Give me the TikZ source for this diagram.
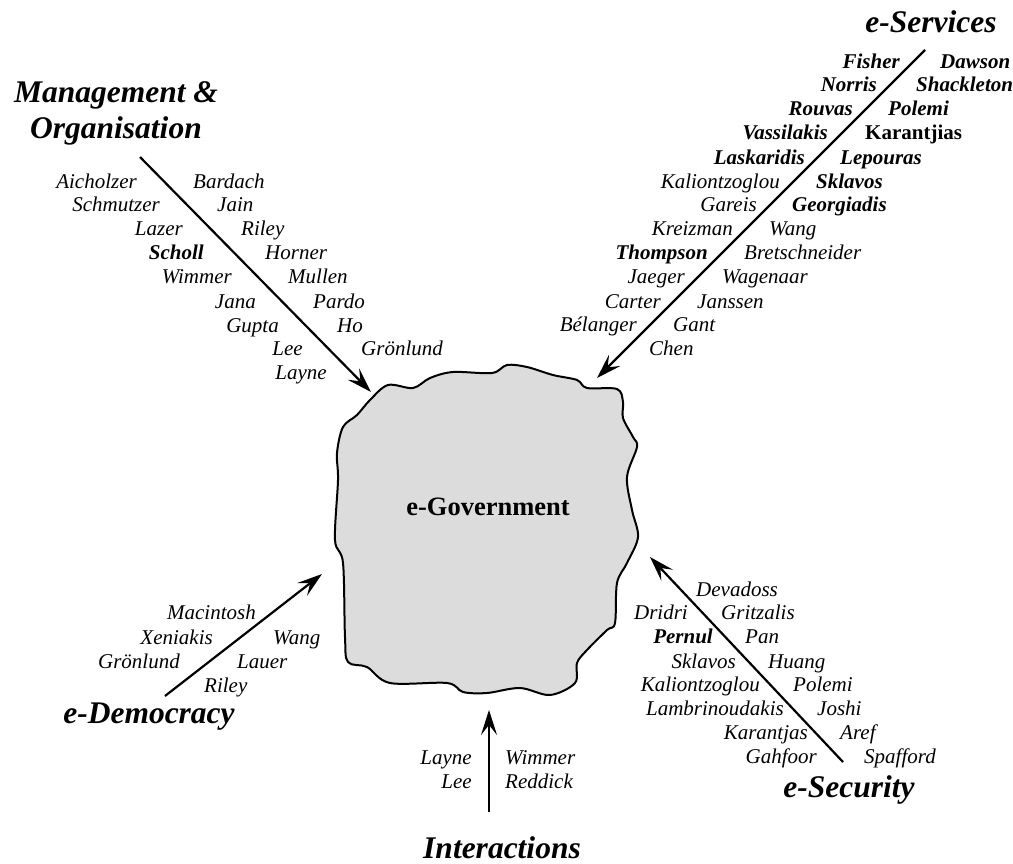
\documentclass[tikz,border=0pt]{standalone}
\usepackage{fontspec}
\setmainfont{Liberation Serif}
\usetikzlibrary{arrows.meta}
\begin{document}
\begin{tikzpicture}[x=1pt,y=-1pt,
  nm/.style={font=\fontsize{21}{24}\selectfont\itshape, inner sep=0pt},
  bnm/.style={font=\fontsize{21}{24}\selectfont\bfseries\itshape, inner sep=0pt},
  L/.style={anchor=base east},
  R/.style={anchor=base west},
  title/.style={font=\fontsize{31.5}{36}\selectfont\bfseries\itshape, inner sep=0pt, align=center},
  arr/.style={line width=2.2pt, -{Stealth[length=25pt,width=16pt,inset=10pt]}},
  blob/.style={line width=2pt, fill={rgb,255:red,220;green,220;blue,220}, line join=round},
]
\useasboundingbox (0,0) rectangle (1013,863);

% central blob
\draw[blob] plot[smooth cycle, tension=0.55] coordinates {
 (388,385) (413,388) (430,378) (453,372) (492,373) (507,365) (527,367)
 (553,375) (577,380) (587,388) (617,389) (623,402) (623,418) (633,437)
 (637,447) (627,477) (632,510) (638,537) (627,563) (617,583) (615,623)
 (607,630) (587,650) (577,663) (575,683) (550,695) (520,688) (487,693)
 (463,692) (447,683) (390,683) (367,667) (348,662) (345,637) (343,563)
 (335,540) (338,480) (337,453) (343,427) (357,415) (370,400)};
\node[font=\fontsize{26.5}{30}\selectfont\bfseries, inner sep=0pt, anchor=base] (egov) at (488,515) {e-Government};

% arrow end points
\coordinate (mS) at (140,157);  \coordinate (mE) at (371,392);
\coordinate (sS) at (925,50);   \coordinate (sE) at (597,378);
\coordinate (dS) at (165,696);  \coordinate (dE) at (322,574);
\coordinate (cS) at (843,762);  \coordinate (cE) at (650,557);
\coordinate (iS) at (489,812);  \coordinate (iE) at (489,710);
\draw[arr] (mS) -- (mE);
\draw[arr] (sS) -- (sE);
\draw[arr] (dS) -- (dE);
\draw[arr] (cS) -- (cE);
\draw[arr] (iS) -- (iE);

% titles
\node[title] (tM) at (116,113) {Management \&\\Organisation};
\node[title, anchor=base] (tS) at (931,32) {e-Services};
\node[title, anchor=base] (tD) at (149,723) {e-Democracy};
\node[title, anchor=base] (tC) at (849,797) {e-Security};
\node[title, anchor=base] (tI) at (502,858) {Interactions};

% Management & Organisation
\node[nm,L] (m1) at (137,188) {Aicholzer};
\node[nm,L] (m2) at (160,211) {Schmutzer};
\node[nm,L] (m3) at (183,235) {Lazer};
\node[bnm,L] (m4) at (204,259) {Scholl};
\node[nm,L] (m5) at (232,283) {Wimmer};
\node[nm,L] (m6) at (256,308) {Jana};
\node[nm,L] (m7) at (279,332) {Gupta};
\node[nm,L] (m8) at (303,355) {Lee};
\node[nm,L] (m9) at (327,379) {Layne};
\node[nm,R] (m10) at (193,188) {Bardach};
\node[nm,R] (m11) at (217,211) {Jain};
\node[nm,R] (m12) at (241,235) {Riley};
\node[nm,R] (m13) at (265,259) {Horner};
\node[nm,R] (m14) at (288,283) {Mullen};
\node[nm,R] (m15) at (313,308) {Pardo};
\node[nm,R] (m16) at (337,332) {Ho};
\node[nm,R] (m17) at (361,355) {Grönlund};

% e-Services
\node[bnm,L] (s1) at (900,68) {Fisher};
\node[bnm,L] (s2) at (877,91) {Norris};
\node[bnm,L] (s3) at (853,115) {Rouvas};
\node[bnm,L] (s4) at (828,139) {Vassilakis};
\node[bnm,L] (s5) at (805,164) {Laskaridis};
\node[nm,L] (s6) at (780,188) {Kaliontzoglou};
\node[nm,L] (s7) at (757,211) {Gareis};
\node[nm,L] (s8) at (733,235) {Kreizman};
\node[bnm,L] (s9) at (708,259) {Thompson};
\node[nm,L] (s10) at (685,283) {Jaeger};
\node[nm,L] (s11) at (661,308) {Carter};
\node[nm,L] (s12) at (637,331) {Bélanger};
\node[bnm,R] (s13) at (940,68) {Dawson};
\node[bnm,R] (s14) at (916,91) {Shackleton};
\node[bnm,R] (s15) at (888,115) {Polemi};
\node[font=\fontsize{21}{24}\selectfont\bfseries, inner sep=0pt, R] (s16) at (865,139) {Karantjias};
\node[bnm,R] (s17) at (840,164) {Lepouras};
\node[bnm,R] (s18) at (816,188) {Sklavos};
\node[bnm,R] (s19) at (792,211) {Georgiadis};
\node[nm,R] (s20) at (769,235) {Wang};
\node[nm,R] (s21) at (744,259) {Bretschneider};
\node[nm,R] (s22) at (722,283) {Wagenaar};
\node[nm,R] (s23) at (697,308) {Janssen};
\node[nm,R] (s24) at (673,331) {Gant};
\node[nm,R] (s25) at (649,355) {Chen};

% e-Democracy
\node[nm,L] (d1) at (256,619) {Macintosh};
\node[nm,L] (d2) at (213,644) {Xeniakis};
\node[nm,L] (d3) at (180,668) {Grönlund};
\node[nm,R] (d4) at (273,644) {Wang};
\node[nm,R] (d5) at (237,668) {Lauer};
\node[nm,R] (d6) at (204,692) {Riley};

% e-Security
\node[nm,R] (c1) at (696,596) {Devadoss};
\node[nm,R] (c2) at (721,619) {Gritzalis};
\node[nm,R] (c3) at (745,643) {Pan};
\node[nm,R] (c4) at (768,668) {Huang};
\node[nm,R] (c5) at (793,691) {Polemi};
\node[nm,R] (c6) at (817,715) {Joshi};
\node[nm,R] (c7) at (840,739) {Aref};
\node[nm,R] (c8) at (864,763) {Spafford};
\node[nm,L] (c9) at (688,619) {Dridri};
\node[bnm,L] (c10) at (713,643) {Pernul};
\node[nm,L] (c11) at (736,668) {Sklavos};
\node[nm,L] (c12) at (760,691) {Kaliontzoglou};
\node[nm,L] (c13) at (784,715) {Lambrinoudakis};
\node[nm,L] (c14) at (808,739) {Karantjas};
\node[nm,L] (c15) at (817,763) {Gahfoor};

% Interactions
\node[nm,L] (i1) at (472,764) {Layne};
\node[nm,L] (i2) at (472,788) {Lee};
\node[nm,R] (i3) at (505,764) {Wimmer};
\node[nm,R] (i4) at (505,788) {Reddick};
\end{tikzpicture}
\end{document}
